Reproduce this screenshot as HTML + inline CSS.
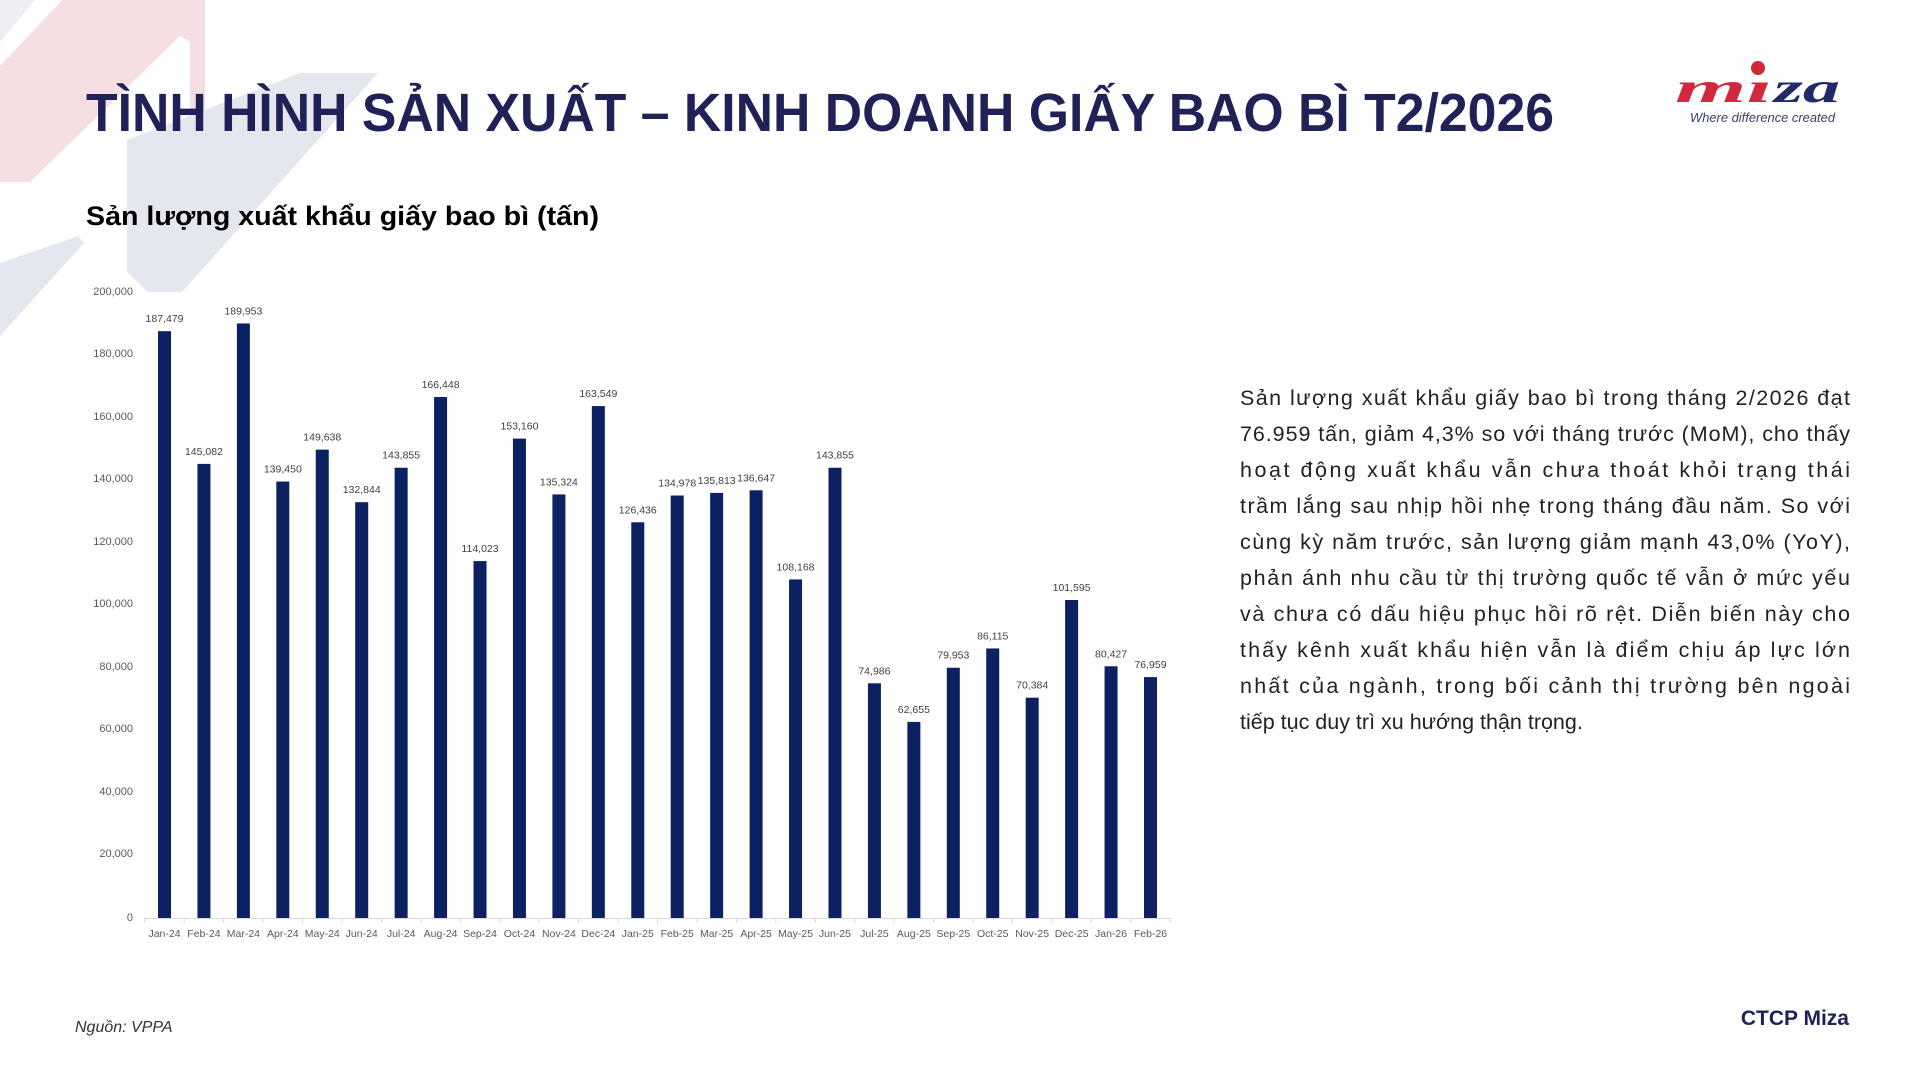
<!DOCTYPE html>
<html><head><meta charset="utf-8"><style>
html,body{margin:0;padding:0;background:#fff;}
svg{display:block;}
</style></head><body>
<svg width="1920" height="1080" viewBox="0 0 1920 1080" xmlns="http://www.w3.org/2000/svg">
<rect width="1920" height="1080" fill="#fff"/>
<polygon points="0,0 35,0 0,42" fill="#eceef2"/>
<polygon points="62,0 205,0 205,130 190,130 190,42 180,36 30,182 0,182 0,66" fill="#f5dfe2"/>
<polygon points="300,73 378,73 182,292 148,292 127,272 127,140" fill="#e5e7ee"/>
<polygon points="0,263 78,236 84,243 0,336" fill="#e5e7ee"/>

<text x="86" y="131" font-family="Liberation Sans, sans-serif" font-weight="bold" font-size="54" fill="#1f2157" textLength="1468" lengthAdjust="spacingAndGlyphs">TÌNH HÌNH SẢN XUẤT – KINH DOANH GIẤY BAO BÌ T2/2026</text>
<text x="86" y="225" font-family="Liberation Sans, sans-serif" font-weight="bold" font-size="27" fill="#000" textLength="513" lengthAdjust="spacingAndGlyphs">Sản lượng xuất khẩu giấy bao bì (tấn)</text>

<text x="1675" y="102" font-family="Liberation Serif, serif" font-weight="bold" font-style="italic" font-size="42" fill="#d2283c" textLength="97" lengthAdjust="spacingAndGlyphs">mı</text>
<circle cx="1758" cy="68" r="7" fill="#d2283c"/>
<text x="1774" y="102" font-family="Liberation Serif, serif" font-weight="bold" font-style="italic" font-size="42" fill="#1f2a66" textLength="66" lengthAdjust="spacingAndGlyphs">za</text>
<text x="1690" y="122" font-family="Liberation Sans, sans-serif" font-style="italic" font-size="13" fill="#3a3f66" textLength="145" lengthAdjust="spacingAndGlyphs">Where difference created</text>

<g font-family="Liberation Sans, sans-serif" font-size="11" fill="#595959" text-anchor="end">
<text x="133" y="295">200,000</text>
<text x="133" y="357">180,000</text>
<text x="133" y="420">160,000</text>
<text x="133" y="482">140,000</text>
<text x="133" y="545">120,000</text>
<text x="133" y="607">100,000</text>
<text x="133" y="670">80,000</text>
<text x="133" y="732">60,000</text>
<text x="133" y="795">40,000</text>
<text x="133" y="857">20,000</text>
<text x="133" y="921">0</text>
</g>
<line x1="144" y1="918.5" x2="1170" y2="918.5" stroke="#d9d9d9" stroke-width="1"/>
<g id="chart"></g>

<g font-family="Liberation Sans, sans-serif" font-size="21.5" fill="#222">
<text x="1240" y="405" textLength="610" lengthAdjust="spacing">Sản lượng xuất khẩu giấy bao bì trong tháng 2/2026 đạt</text>
<text x="1240" y="441" textLength="610" lengthAdjust="spacing">76.959 tấn, giảm 4,3% so với tháng trước (MoM), cho thấy</text>
<text x="1240" y="477" textLength="610" lengthAdjust="spacing">hoạt động xuất khẩu vẫn chưa thoát khỏi trạng thái</text>
<text x="1240" y="513" textLength="610" lengthAdjust="spacing">trầm lắng sau nhịp hồi nhẹ trong tháng đầu năm. So với</text>
<text x="1240" y="549" textLength="610" lengthAdjust="spacing">cùng kỳ năm trước, sản lượng giảm mạnh 43,0% (YoY),</text>
<text x="1240" y="585" textLength="610" lengthAdjust="spacing">phản ánh nhu cầu từ thị trường quốc tế vẫn ở mức yếu</text>
<text x="1240" y="621" textLength="610" lengthAdjust="spacing">và chưa có dấu hiệu phục hồi rõ rệt. Diễn biến này cho</text>
<text x="1240" y="657" textLength="610" lengthAdjust="spacing">thấy kênh xuất khẩu hiện vẫn là điểm chịu áp lực lớn</text>
<text x="1240" y="693" textLength="610" lengthAdjust="spacing">nhất của ngành, trong bối cảnh thị trường bên ngoài</text>
<text x="1240" y="729">tiếp tục duy trì xu hướng thận trọng.</text>
</g>

<text x="75" y="1032" font-family="Liberation Sans, sans-serif" font-style="italic" font-size="16" fill="#333">Nguồn: VPPA</text>
<text x="1849" y="1025" text-anchor="end" font-family="Liberation Sans, sans-serif" font-weight="bold" font-size="21" fill="#1f2157">CTCP Miza</text>
</svg>
<script>
(function(){
var vals=[187479,145082,189953,139450,149638,132844,143855,166448,114023,153160,135324,163549,126436,134978,135813,136647,108168,143855,74986,62655,79953,86115,70384,101595,80427,76959];
var labs=["Jan-24","Feb-24","Mar-24","Apr-24","May-24","Jun-24","Jul-24","Aug-24","Sep-24","Oct-24","Nov-24","Dec-24","Jan-25","Feb-25","Mar-25","Apr-25","May-25","Jun-25","Jul-25","Aug-25","Sep-25","Oct-25","Nov-25","Dec-25","Jan-26","Feb-26"];
var g=document.getElementById("chart"),h="";
for(var i=0;i<vals.length;i++){
 var cx=164.5+i*39.44, top=918-vals[i]*626/200000;
 h+='<rect x="'+(cx-6.5)+'" y="'+top+'" width="13" height="'+(918-top)+'" fill="#0b2161"/>';
 h+='<text x="'+cx+'" y="'+(top-9)+'" text-anchor="middle" font-family="Liberation Sans, sans-serif" font-size="10.5" fill="#404040">'+vals[i].toLocaleString("en-US")+'</text>';
 h+='<text x="'+cx+'" y="937" text-anchor="middle" font-family="Liberation Sans, sans-serif" font-size="10.5" fill="#595959">'+labs[i]+'</text>';
 var tx=cx-19.72;
 h+='<line x1="'+tx+'" y1="918" x2="'+tx+'" y2="923" stroke="#d9d9d9"/>';
}
h+='<line x1="'+(164.5+25*39.44+19.72)+'" y1="918" x2="'+(164.5+25*39.44+19.72)+'" y2="923" stroke="#d9d9d9"/>';
g.innerHTML=h;
})();
</script>
</body></html>
